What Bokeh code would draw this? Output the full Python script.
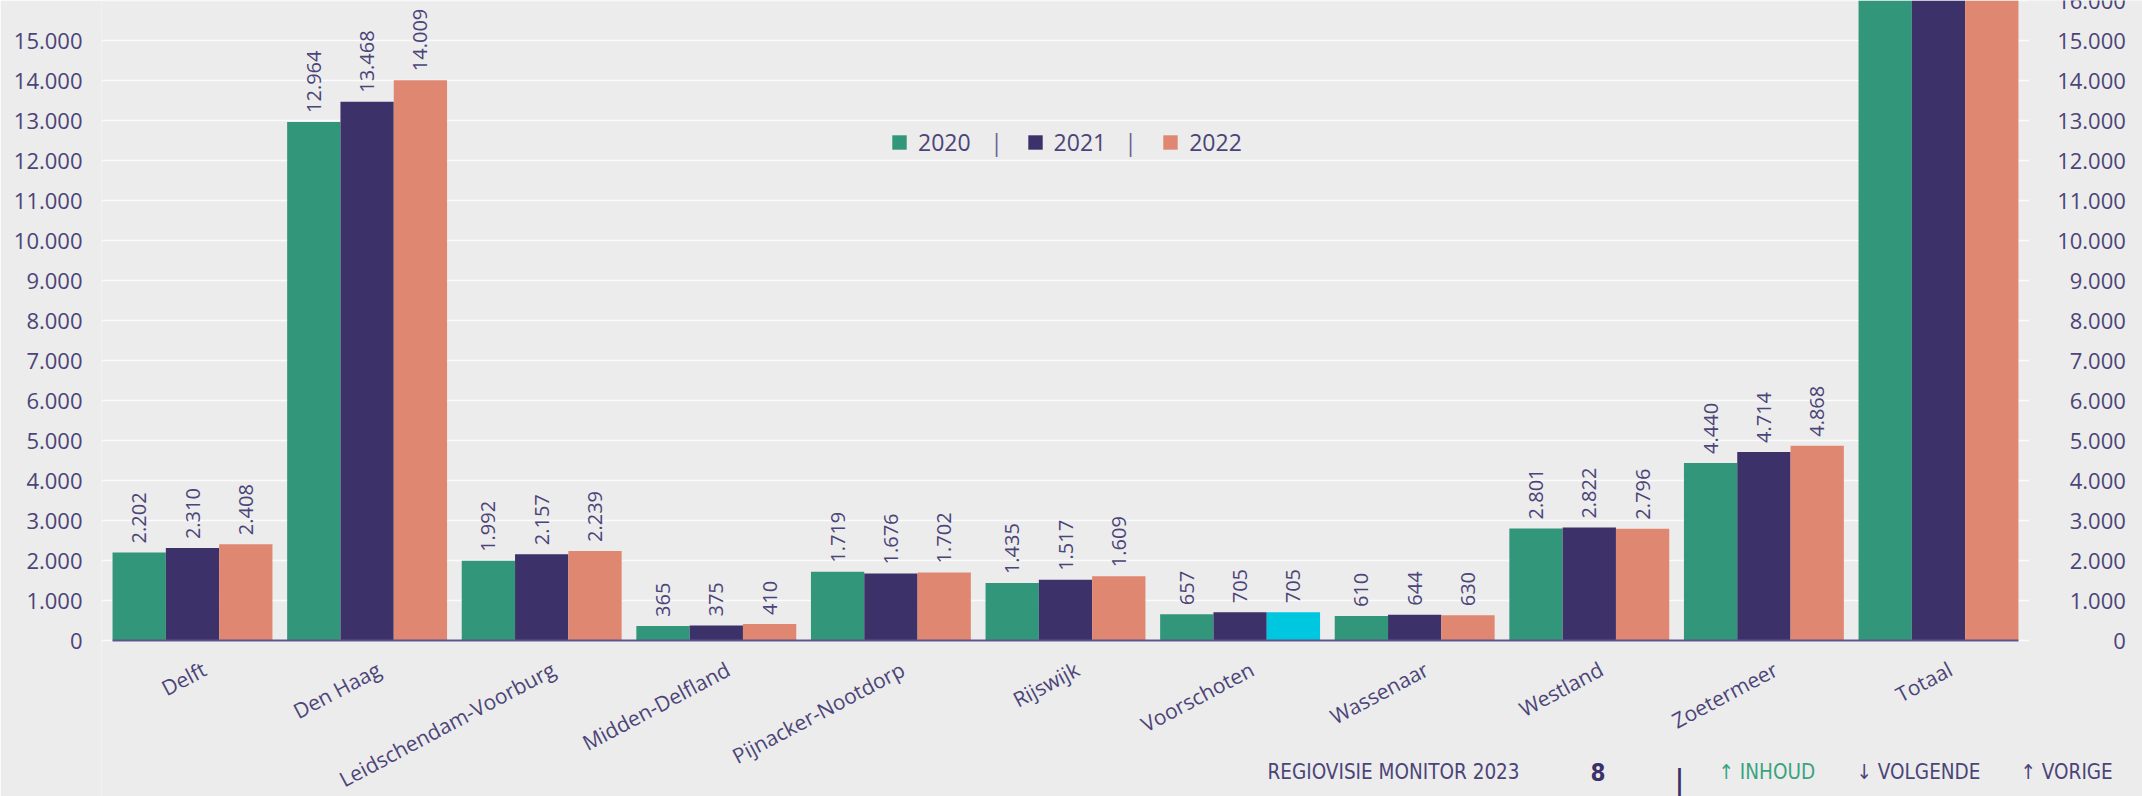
import math
from bokeh.plotting import figure
from bokeh.models import (ColumnDataSource, Range1d, FixedTicker, Legend, LegendItem, Label)
from bokeh.transform import dodge
from bokeh.core.properties import value
from bokeh.embed import file_html
from bokeh.resources import INLINE

# ---------------- data ----------------
categories = ["Delft", "Den Haag", "Leidschendam-Voorburg", "Midden-Delfland",
              "Pijnacker-Nootdorp", "Rijswijk", "Voorschoten", "Wassenaar",
              "Westland", "Zoetermeer", "Totaal"]
years = ["2020", "2021", "2022"]
v2020 = [2202, 12964, 1992, 365, 1719, 1435, 657, 610, 2801, 4440, 29185]
v2021 = [2310, 13468, 2157, 375, 1676, 1517, 705, 644, 2822, 4714, 30388]
v2022 = [2408, 14009, 2239, 410, 1702, 1609, 705, 630, 2796, 4868, 31376]
highlight_2022 = "Voorschoten"
y_ticks_left = list(range(0, 15001, 1000))
y_ticks_right = list(range(0, 16001, 1000))
footer_left = "REGIOVISIE MONITOR 2023"
page_number = "8"
nav_items = ["\u2191 INHOUD", "\u2193 VOLGENDE", "\u2191 VORIGE"]

# ---------------- style / layout ----------------
GREEN = "#32967a"
PURPLE = "#3d3169"
ORANGE = "#e08772"
CYAN = "#00c7e0"
BG = "#ececec"
TXT = "#4b4478"
SEP = "#6b6394"
NAV_GREEN = "#3aa37e"
FONT = "Open Sans"
NARROW = "Liberation Sans Narrow, DejaVu Sans Condensed, Roboto, sans-serif"

W, H = 2142, 796
LEFT = 101           # left border (px) holding the y axis
CAT_W = 174.6        # px per category
CAT0 = 104.7         # px where the first category starts
ZERO = 640           # px from top where value 0 sits
PX_PER_UNIT = 40.0 / 1000.0
n = len(categories)
x_start = -(CAT0 - LEFT) / CAT_W
x_end = x_start + (W - LEFT) / CAT_W
y_end = ZERO / PX_PER_UNIT
y_start = -(H - ZERO) / PX_PER_UNIT

def nl(v):
    return f"{v:,}".replace(",", ".")

p = figure(width=W, height=H,
           x_range=Range1d(x_start, x_end), y_range=Range1d(y_start, y_end),
           output_backend="svg", toolbar_location=None,
           min_border_left=LEFT, min_border_right=0,
           min_border_top=0, min_border_bottom=0,
           background_fill_color=BG, border_fill_color=BG,
           outline_line_color=None, x_axis_location=None)
p.xgrid.visible = False
p.ygrid.visible = False

# grid lines
grid = ColumnDataSource(dict(y=y_ticks_right, x0=[x_start] * len(y_ticks_right),
                             x1=[n + 3.3 / CAT_W] * len(y_ticks_right)))
p.segment(x0="x0", x1="x1", y0="y", y1="y", source=grid, line_color="#fbfbfb", line_width=1.5)

bw = 0.3053
pos = [i + 0.5 for i in range(n)]
c2022 = [CYAN if c == highlight_2022 else ORANGE for c in categories]
src = ColumnDataSource(dict(cat=categories, x=pos, v2020=v2020, v2021=v2021, v2022=v2022, c2022=c2022))

r0 = p.vbar(x=dodge("x", -bw), top="v2020", width=bw, source=src, fill_color=GREEN, line_color=None)
r1 = p.vbar(x=dodge("x", 0), top="v2021", width=bw, source=src, fill_color=PURPLE, line_color=None)
r2 = p.vbar(x=dodge("x", bw), top="v2022", width=bw, source=src, fill_color="c2022", line_color=None)

# baseline under the bars
p.segment(x0=[pos[0] - 1.5 * bw], x1=[pos[-1] + 1.5 * bw], y0=[0], y1=[0],
          line_color="#5e548c", line_width=2)

# value labels
for vals, off in ((v2020, -bw), (v2021, 0), (v2022, bw)):
    keep = [i for i, v in enumerate(vals) if v < y_end]
    ls = ColumnDataSource(dict(x=[pos[i] for i in keep], v=[vals[i] for i in keep],
                               t=[nl(vals[i]) for i in keep]))
    p.text(x=dodge("x", off), y="v", text="t", source=ls,
           angle=math.pi / 2, text_align="left", text_baseline="middle", y_offset=-9,
           text_font=value(FONT), text_font_size="20px", text_color=TXT)

# category labels (rotated)
p.text(x="x", y=0, text="cat", source=src, angle=math.radians(28),
       text_align="right", text_baseline="middle", x_offset=12, y_offset=27,
       text_font=value(FONT), text_font_size="21px", text_color=TXT)

# left y axis
ax_l = p.yaxis[0]
ax_l.ticker = FixedTicker(ticks=y_ticks_left)
ax_l.axis_line_color = None
ax_l.major_tick_line_color = None
ax_l.minor_tick_line_color = None
ax_l.major_tick_out = 0
ax_l.minor_tick_out = 0
ax_l.major_label_standoff = 19
ax_l.major_label_text_font = FONT
ax_l.major_label_text_font_size = "22px"
ax_l.major_label_text_color = TXT
ax_l.major_label_overrides = {v: nl(v) for v in y_ticks_left}

# right-hand tick labels (right aligned)
rsrc = ColumnDataSource(dict(y=y_ticks_right, t=[nl(v) for v in y_ticks_right],
                             x=[n] * len(y_ticks_right)))
p.text(x="x", y="y", text="t", source=rsrc, text_align="right", text_baseline="middle",
       x_offset=100, text_font=value(FONT), text_font_size="22px", text_color=TXT)

# legend
legend = Legend(items=[LegendItem(label=years[0], renderers=[r0]),
                       LegendItem(label=years[1], renderers=[r1]),
                       LegendItem(label=years[2], renderers=[r2], index=0)],
                orientation="horizontal", location=(789, 638),
                glyph_width=18, glyph_height=18, label_standoff=10, spacing=55,
                padding=0, margin=0, border_line_color=None, background_fill_alpha=0,
                label_text_font=FONT, label_text_font_size="23px", label_text_color=TXT)
p.add_layout(legend)

for sx in (895, 1029):
    p.add_layout(Label(x=sx, y=655, x_units="screen", y_units="screen", text="|",
                       text_align="center", text_baseline="middle",
                       text_font=FONT, text_font_size="23px", text_color=SEP))

# footer
FY = 25
p.add_layout(Label(x=1166, y=FY, x_units="screen", y_units="screen", text=footer_left,
                   text_baseline="middle", text_font=NARROW, text_font_size="20.5px",
                   text_color=TXT))
p.add_layout(Label(x=1489, y=FY, x_units="screen", y_units="screen", text=page_number,
                   text_baseline="middle", text_font=NARROW, text_font_size="24px",
                   text_font_style="bold", text_color=PURPLE))
p.add_layout(Label(x=1578, y=14, x_units="screen", y_units="screen", text="|",
                   text_align="center", text_baseline="middle", text_font=NARROW,
                   text_font_size="36px", text_color=PURPLE))
for sx, txt, col in ((1617, nav_items[0], NAV_GREEN), (1755, nav_items[1], TXT),
                     (1919, nav_items[2], TXT)):
    p.add_layout(Label(x=sx, y=FY, x_units="screen", y_units="screen", text=txt,
                       text_baseline="middle", text_font=NARROW, text_font_size="20.5px",
                       text_color=col))

open("out.html", "w").write(file_html(p, INLINE))
